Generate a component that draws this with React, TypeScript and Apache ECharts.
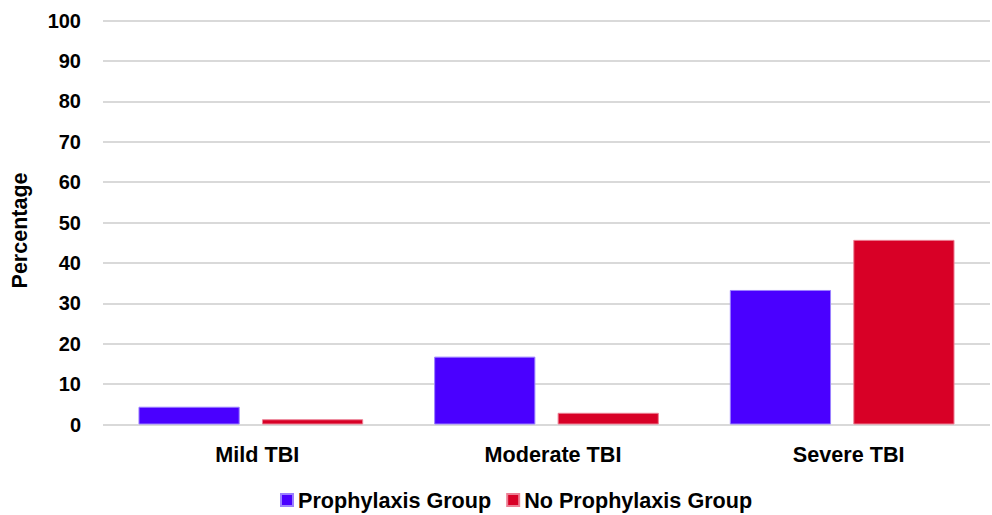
import React, { useEffect, useRef } from "react";
import * as echarts from "echarts";

const categories = ["Mild TBI", "Moderate TBI", "Severe TBI"];
const prophylaxis = [4.4, 16.8, 33.3];
const noProphylaxis = [1.3, 2.9, 45.7];
const seriesNames = ["Prophylaxis Group", "No Prophylaxis Group"];

const FONT = "'Liberation Sans', Arial, sans-serif";

export default function App() {
  const ref = useRef<HTMLDivElement>(null);
  useEffect(() => {
    if (!ref.current) return;
    const chart = echarts.init(ref.current, undefined, { renderer: "svg" });
    chart.setOption({
      animation: false,
      textStyle: { fontFamily: FONT },
      grid: { left: 103, right: 2, top: 20.5, bottom: 90.5, containLabel: false },
      legend: {
        bottom: -1,
        left: 275,
        itemWidth: 12,
        itemHeight: 12,
        itemGap: 15,
        icon: "rect",
        textStyle: { fontFamily: FONT, fontSize: 21.6, fontWeight: "bold", color: "#000" },
        data: seriesNames,
      },
      xAxis: {
        type: "category",
        data: categories,
        axisLine: { show: false },
        axisTick: { show: false },
        axisLabel: {
          fontFamily: FONT,
          fontSize: 21.6,
          fontWeight: "bold",
          color: "#000",
          margin: 19,
          padding: [0, 0, 0, 13],
        },
      },
      yAxis: {
        type: "value",
        min: 0,
        max: 100,
        interval: 10,
        name: "Percentage",
        nameLocation: "middle",
        nameGap: 72,
        nameRotate: 90,
        nameTextStyle: {
          fontFamily: FONT,
          fontSize: 21.5,
          fontWeight: "bold",
          color: "#000",
          padding: [0, 16, 0, 0],
        },
        axisLine: { show: false },
        axisTick: { show: false },
        axisLabel: { fontFamily: FONT, fontSize: 20, fontWeight: "bold", color: "#000", margin: 22 },
        splitLine: { lineStyle: { color: "#d9d9d9", width: 2 } },
      },
      series: [
        {
          name: seriesNames[0],
          type: "bar",
          data: prophylaxis,
          barGap: "22%",
          barCategoryGap: "24%",
          itemStyle: { color: "#4A00FF", borderColor: "#9B80FF", borderWidth: 1 },
        },
        {
          name: seriesNames[1],
          type: "bar",
          data: noProphylaxis,
          itemStyle: { color: "#D80026", borderColor: "#EC8095", borderWidth: 1 },
        },
      ],
    });
    return () => chart.dispose();
  }, []);
  return <div ref={ref} style={{ width: 992, height: 515, position: "absolute", left: 0, top: 0, background: "#fff" }} />;
}
